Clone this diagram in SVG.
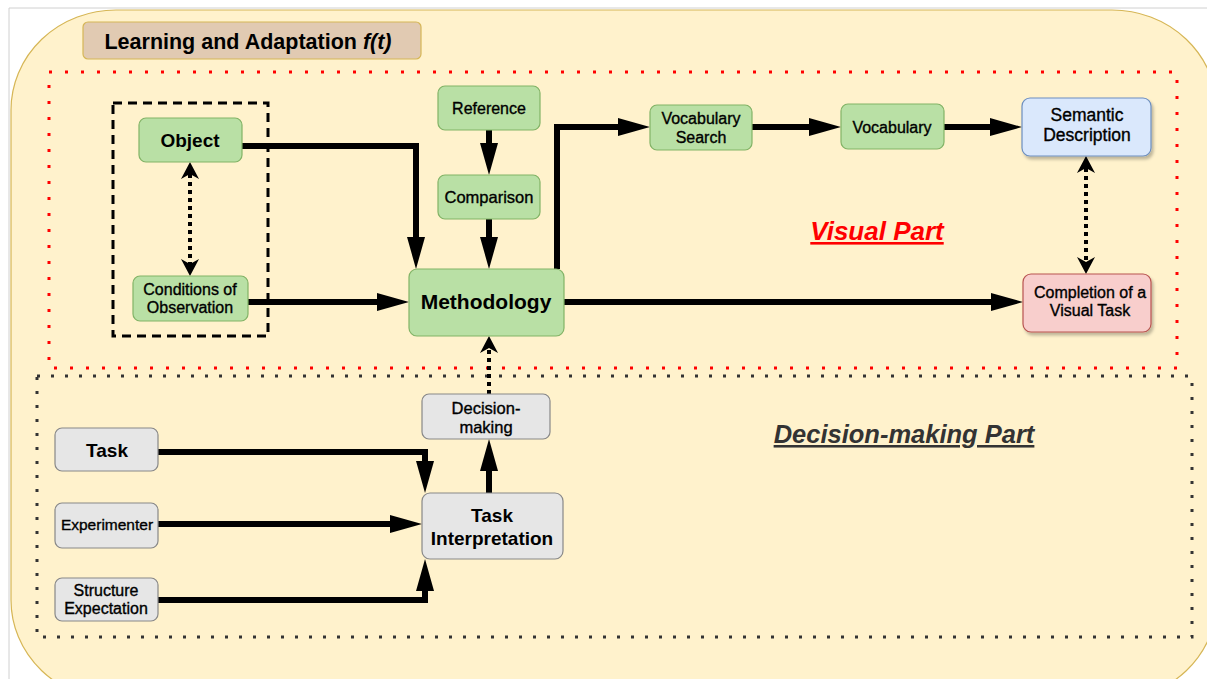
<svg xmlns="http://www.w3.org/2000/svg" width="1207" height="679" viewBox="0 0 1207 679">
  <style>
    text { font-family: "Liberation Sans", Arial, sans-serif; fill: #000; text-anchor: middle; }
    .b { font-weight: bold; }
    .r { stroke: #000; stroke-width: 0.35; }
    .green { fill: #b9e0a5; stroke: #82b366; stroke-width: 1.2; }
    .grey { fill: #e6e6e6; stroke: #888; stroke-width: 1.2; }
    .blue { fill: #dae8fc; stroke: #6c8ebf; stroke-width: 1.2; }
    .pink { fill: #f8cecc; stroke: #b85450; stroke-width: 1.2; }
    .flow { fill: none; stroke: #000; stroke-width: 6; marker-end: url(#block); }
    .dots { fill: none; stroke: #000; stroke-width: 4; stroke-dasharray: 4 4; }
  </style>
  <defs>
    <marker id="block" markerUnits="userSpaceOnUse" markerWidth="32" markerHeight="20" viewBox="0 0 32 20" refX="1" refY="10" orient="auto">
      <path d="M0,1 L32,10 L0,19 z" fill="#000"/>
    </marker>
    <marker id="open" markerUnits="userSpaceOnUse" markerWidth="18" markerHeight="18" viewBox="0 0 18 18" refX="5" refY="9" orient="auto-start-reverse">
      <path d="M0,0 L17,9 L0,18 L5,9 z" fill="#000"/>
    </marker>
    <filter id="shadow" x="-10%" y="-10%" width="130%" height="140%">
      <feDropShadow dx="2" dy="3" stdDeviation="1.5" flood-color="#000" flood-opacity="0.25"/>
    </filter>
  </defs>

  <!-- page frame -->
  <rect x="0" y="0" width="1207" height="679" fill="#fff"/>
  <path d="M9,679 V8 H1207" fill="none" stroke="#d0d0d0" stroke-width="1"/>

  <!-- learning and adaptation container -->
  <rect x="11" y="10" width="1206" height="690" rx="105" ry="100" fill="#fff2cc" stroke="#d6b656" stroke-width="1.2"/>
  <g id="title">
    <rect x="83" y="22" width="338" height="37" rx="5" fill="#e1cab2" stroke="#d6b656" stroke-width="1.2"/>
    <text x="248" y="48.5" class="b" font-size="21.5">Learning and Adaptation <tspan font-style="italic">f(t)</tspan></text>
  </g>

  <!-- regions -->
  <rect id="visual-region" x="49" y="72" width="1128" height="296" fill="none" stroke="#ff0000" stroke-width="3" stroke-dasharray="3 13"/>
  <rect id="decision-region" x="37" y="376" width="1155" height="261" fill="none" stroke="#333" stroke-width="3" stroke-dasharray="3 11"/>
  <rect id="observation-group" x="113" y="103" width="155" height="233" fill="none" stroke="#000" stroke-width="3" stroke-dasharray="9 6"/>

  <text x="877" y="240" class="b" font-size="26" font-style="italic" text-decoration="underline" style="fill:#ff0000">Visual Part</text>
  <text x="904" y="443" class="b" font-size="25.5" font-style="italic" text-decoration="underline" style="fill:#333">Decision-making Part</text>

  <!-- connectors -->
  <g id="connectors">
    <path class="flow" d="M242,146 H416 V238"/>
    <path class="flow" d="M248,302 H378"/>
    <path class="flow" d="M489,130 V144"/>
    <path class="flow" d="M489,219 V238"/>
    <path class="flow" d="M557,269 V127 H619"/>
    <path class="flow" d="M752,127 H810"/>
    <path class="flow" d="M944,127 H991"/>
    <path class="flow" d="M564,302 H992"/>
    <path class="flow" d="M489,493 V470"/>
    <path class="flow" d="M158,452 H425 V462"/>
    <path class="flow" d="M158,524 H391"/>
    <path class="flow" d="M158,600 H425 V590"/>
    <path class="dots" d="M190,174 V264" marker-start="url(#open)" marker-end="url(#open)"/>
    <path class="dots" d="M1086,168 V262" marker-start="url(#open)" marker-end="url(#open)"/>
    <path class="dots" d="M489,394 V348" marker-end="url(#open)"/>
  </g>

  <!-- visual part nodes -->
  <g id="object">
    <rect class="green" x="139" y="118" width="103" height="44" rx="7"/>
    <text x="190" y="147" class="b" font-size="19">Object</text>
  </g>
  <g id="conditions">
    <rect class="green" x="133" y="276" width="115" height="45" rx="7"/>
    <text x="190" y="295" class="r" font-size="16">Conditions of</text>
    <text x="190" y="313" class="r" font-size="16">Observation</text>
  </g>
  <g id="reference">
    <rect class="green" x="438" y="86" width="102" height="44" rx="7"/>
    <text x="489" y="114" class="r" font-size="16">Reference</text>
  </g>
  <g id="comparison">
    <rect class="green" x="438" y="175" width="102" height="44" rx="7"/>
    <text x="489" y="203" class="r" font-size="16.5">Comparison</text>
  </g>
  <g id="methodology">
    <rect class="green" x="409" y="269" width="155" height="67" rx="8"/>
    <text x="486" y="309" class="b" font-size="21">Methodology</text>
  </g>
  <g id="vocabulary-search">
    <rect class="green" x="650" y="105" width="102" height="45" rx="7"/>
    <text x="701" y="124" class="r" font-size="16">Vocabulary</text>
    <text x="701" y="143" class="r" font-size="16">Search</text>
  </g>
  <g id="vocabulary">
    <rect class="green" x="841" y="104" width="103" height="45" rx="7"/>
    <text x="892" y="133" class="r" font-size="16">Vocabulary</text>
  </g>
  <g id="semantic-description">
    <rect class="blue" x="1022" y="98" width="129" height="58" rx="8" filter="url(#shadow)"/>
    <text x="1087" y="121" class="r" font-size="17.5">Semantic</text>
    <text x="1087" y="141" class="r" font-size="17.5">Description</text>
  </g>
  <g id="completion">
    <rect class="pink" x="1023" y="274" width="128" height="58" rx="8" filter="url(#shadow)"/>
    <text x="1090" y="298" class="r" font-size="16">Completion of a</text>
    <text x="1090" y="316" class="r" font-size="16">Visual Task</text>
  </g>

  <!-- decision-making part nodes -->
  <g id="decision-making">
    <rect class="grey" x="422" y="394" width="128" height="45" rx="7"/>
    <text x="486" y="414" class="r" font-size="16.5">Decision-</text>
    <text x="486" y="433" class="r" font-size="16.5">making</text>
  </g>
  <g id="task">
    <rect class="grey" x="55" y="428" width="103" height="43" rx="7"/>
    <text x="107" y="457" class="b" font-size="19">Task</text>
  </g>
  <g id="experimenter">
    <rect class="grey" x="55" y="503" width="103" height="45" rx="7"/>
    <text x="107" y="530" class="r" font-size="15.5">Experimenter</text>
  </g>
  <g id="structure-expectation">
    <rect class="grey" x="55" y="578" width="103" height="43" rx="7"/>
    <text x="106" y="596" class="r" font-size="16">Structure</text>
    <text x="106" y="614" class="r" font-size="16">Expectation</text>
  </g>
  <g id="task-interpretation">
    <rect class="grey" x="422" y="493" width="141" height="66" rx="8"/>
    <text x="492" y="522" class="b" font-size="19">Task</text>
    <text x="492" y="545" class="b" font-size="19">Interpretation</text>
  </g>
</svg>
